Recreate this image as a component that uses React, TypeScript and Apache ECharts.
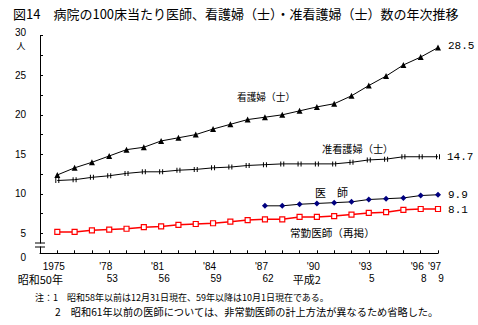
import React, { useEffect, useRef } from "react";
import * as echarts from "echarts";

const years = [1975, 1976, 1977, 1978, 1979, 1980, 1981, 1982, 1983, 1984, 1985, 1986, 1987, 1988, 1989, 1990, 1991, 1992, 1993, 1994, 1995, 1996, 1997];
const nurses = [12.4, 13.3, 14.0, 14.8, 15.6, 15.9, 16.7, 17.1, 17.5, 18.2, 18.8, 19.4, 19.7, 20.0, 20.5, 21.0, 21.4, 22.4, 23.7, 24.9, 26.3, 27.3, 28.5];
const assistantNurses = [11.7, 11.8, 12.1, 12.3, 12.6, 12.8, 12.8, 13.0, 13.1, 13.3, 13.4, 13.6, 13.7, 13.8, 13.8, 13.8, 13.8, 14.0, 14.3, 14.4, 14.7, 14.7, 14.7];
const doctorYears = [1987, 1988, 1989, 1990, 1991, 1992, 1993, 1994, 1995, 1996, 1997];
const doctors = [8.5, 8.5, 8.7, 8.8, 8.9, 9.0, 9.3, 9.4, 9.5, 9.8, 9.9];
const fullTimeDoctors = [5.2, 5.2, 5.4, 5.5, 5.6, 5.8, 5.9, 6.1, 6.2, 6.3, 6.5, 6.7, 6.8, 6.8, 7.1, 7.1, 7.2, 7.4, 7.6, 7.7, 8.0, 8.1, 8.1];

const labelYears = [1975, 1978, 1981, 1984, 1987, 1990, 1993, 1996, 1997];
const labelsWestern = ["1975", "'78", "'81", "'84", "'87", "'90", "'93", "'96", "'97"];
const labelsJapanese = ["昭和50年", "53", "56", "59", "62", "平成2", "5", "8", "9"];

const seriesNames = ["看護婦(士)", "准看護婦(士)", "医　師", "常勤医師(再掲)"];

const JP = "'Noto Sans CJK JP', sans-serif";
const SANS = "'Liberation Sans', Arial, sans-serif";
const MONO = "'Liberation Mono', monospace";

function pairs(xs: number[], vs: number[]) {
  return xs.map((x, i) => {
    const item: any = { value: [x, vs[i]] };
    if (i === xs.length - 1) item.label = { show: true };
    return item;
  });
}

export default function App() {
  const ref = useRef<HTMLDivElement>(null);
  useEffect(() => {
    if (!ref.current) return;
    const chart = echarts.init(ref.current, null, { renderer: "svg" });
    const endLabel = (dy: number) => ({
      show: false,
      position: "right",
      distance: 7,
      offset: [0, dy],
      fontFamily: MONO,
      fontSize: 11,
      color: "#000",
      formatter: (p: any) => String(p.value[1].toFixed(1)),
    });
    const txt = (x: number, y: number, text: string, size: number, align = "left") => ({
      type: "text",
      x,
      y,
      z: 100,
      style: { text, fontFamily: JP, fontSize: size, fill: "#000", align, verticalAlign: "middle", textAlign: align, textVerticalAlign: "middle" },
    });
    const option: any = {
      animation: false,
      backgroundColor: "#fff",
      grid: { left: 40, right: 40, top: 35.7, bottom: 71.7, containLabel: false },
      xAxis: [
        {
          type: "value",
          min: 1974,
          max: 1997,
          interval: 1,
          position: "bottom",
          axisLine: { lineStyle: { color: "#000", width: 1 } },
          axisTick: { inside: true, length: 3, lineStyle: { color: "#000" } },
          splitLine: { show: false },
          axisLabel: {
            margin: 8,
            fontFamily: SANS,
            fontSize: 10,
            color: "#000",
            padding: [0, 7, 0, 0],
            formatter: (v: number) => {
              const i = labelYears.indexOf(v);
              return i >= 0 ? labelsWestern[i] : "";
            },
          },
        },
        {
          type: "value",
          min: 1974,
          max: 1997,
          interval: 1,
          position: "bottom",
          axisLine: { show: false },
          axisTick: { show: false },
          splitLine: { show: false },
          axisLabel: {
            margin: 20,
            fontFamily: JP,
            fontSize: 11,
            color: "#000",
            formatter: (v: number) => {
              const i = labelYears.indexOf(v);
              if (i < 0) return "";
              const t = labelsJapanese[i];
              if (i === 0) return "{s|" + t + "}";
              if (t === "平成2") return "{h|" + t + "}";
              return "{n|" + t + "}";
            },
            rich: {
              s: { fontFamily: JP, fontSize: 11, color: "#000", padding: [0, 34, 0, 0] },
              h: { fontFamily: JP, fontSize: 11, color: "#000", padding: [0, 20, 0, 0] },
              n: { fontFamily: SANS, fontSize: 10, color: "#000", padding: [0, 0, 0, 6] },
            },
          },
        },
      ],
      yAxis: {
        type: "value",
        min: 2.5,
        max: 30,
        interval: 2.5,
        axisLine: { show: true, lineStyle: { color: "#000", width: 1 } },
        axisTick: { show: true, inside: true, length: 3, lineStyle: { color: "#000" } },
        splitLine: { show: false },
        axisLabel: {
          margin: 14,
          fontFamily: SANS,
          fontSize: 10,
          color: "#000",
          formatter: (v: number) => {
            if (v === 2.5) return "{z|0}";
            if (v === 30) return "{t|30}";
            return v % 5 === 0 ? String(v) : "";
          },
          rich: {
            z: { fontFamily: SANS, fontSize: 10, color: "#000", padding: [8, 0, 0, 0] },
            t: { fontFamily: SANS, fontSize: 10, color: "#000", padding: [0, 0, 7, 0] },
          },
        },
      },
      series: [
        {
          name: seriesNames[0],
          type: "line",
          data: pairs(years, nurses),
          symbol: "triangle",
          symbolSize: 6,
          lineStyle: { color: "#000", width: 1 },
          itemStyle: { color: "#000" },
          label: endLabel(-2),
        },
        {
          name: seriesNames[1],
          type: "line",
          data: pairs(years, assistantNurses),
          symbol: "path://M0,0h1v7h-1zM3,0h1v7h-1z",
          symbolSize: [4, 5],
          lineStyle: { color: "#000", width: 1 },
          itemStyle: { color: "#000" },
          label: endLabel(0),
        },
        {
          name: seriesNames[2],
          type: "line",
          data: pairs(doctorYears, doctors),
          symbol: "diamond",
          symbolSize: 6,
          lineStyle: { color: "#000", width: 1 },
          itemStyle: { color: "#000080" },
          label: endLabel(0),
        },
        {
          name: seriesNames[3],
          type: "line",
          data: pairs(years, fullTimeDoctors),
          symbol: "rect",
          symbolSize: 5,
          lineStyle: { color: "#ff0000", width: 1.5 },
          itemStyle: { color: "#fff", borderColor: "#ff0000", borderWidth: 1.2 },
          label: endLabel(1.5),
        },
      ],
      graphic: [
        txt(13, 13, "図14　病院の100床当たり医師、看護婦（士）・准看護婦（士）数の年次推移", 13),
        txt(21, 45.5, "人", 9, "center"),
        txt(237, 97, "看護婦（士）", 9.7),
        txt(322, 148.5, "准看護婦（士）", 10.2),
        txt(315, 192, "医　師", 11),
        txt(290, 232.5, "常勤医師（再掲）", 10.6),
        txt(35, 297, "注：1　昭和58年以前は12月31日現在、59年以降は10月1日現在である。", 9),
        txt(55, 311, "2　昭和61年以前の医師については、非常勤医師の計上方法が異なるため省略した。", 10.2),
        { type: "rect", z: 100, shape: { x: 37, y: 243.5, width: 7, height: 3 }, style: { fill: "#fff" } },
        { type: "line", z: 101, shape: { x1: 35, y1: 243, x2: 45, y2: 243 }, style: { stroke: "#000", lineWidth: 1 } },
        { type: "line", z: 101, shape: { x1: 35, y1: 247, x2: 45, y2: 247 }, style: { stroke: "#000", lineWidth: 1 } },
      ],
    };
    chart.setOption(option);
    return () => chart.dispose();
  }, []);
  return (
    <div
      ref={ref}
      style={{ position: "fixed", left: 0, top: 0, width: 478, height: 325, background: "#fff" }}
    />
  );
}
